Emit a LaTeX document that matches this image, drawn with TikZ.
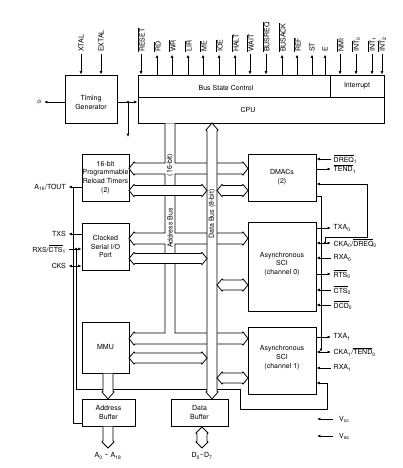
\documentclass[tikz,border=0pt]{standalone}
\usepackage{fontspec}
\setmainfont{TeX Gyre Heros}
\usetikzlibrary{arrows.meta}
\newcommand{\ovl}[1]{$\overline{\mbox{#1}}$}
\newcommand{\sbs}[1]{\textsubscript{#1}}
\tikzset{
 box/.style={draw, line width=0.85pt, inner sep=0pt, align=center},
 sig/.style={line width=0.7pt},
 toend/.style={-{Latex[length=3.4pt,width=2.8pt]}},
 tostart/.style={{Latex[length=3.4pt,width=2.8pt]}-},
 tobothends/.style={{Latex[length=3.4pt,width=2.8pt]}-{Latex[length=3.4pt,width=2.8pt]}},
 bus/.style={draw, fill=white, line width=0.8pt, line join=miter},
 toplab/.style={rotate=90, anchor=west},
 rlab/.style={anchor=west},
 llab/.style={anchor=east},
 buslab/.style={rotate=90},
 dot/.style={circle, fill, inner sep=0pt, minimum size=2.8pt}
}
\newcommand{\hbus}[4]{%
 \path[bus] (#1,#3) -- ({#1+5},{#3-#4-1}) -- ({#1+6},{#3-#4}) -- ({#2-6},{#3-#4}) -- ({#2-5},{#3-#4-1}) -- (#2,#3) -- ({#2-5},{#3+#4+1}) -- ({#2-6},{#3+#4}) -- ({#1+6},{#3+#4}) -- ({#1+5},{#3+#4+1}) -- cycle;}
\begin{document}
\begin{tikzpicture}[x=1pt,y=-1pt,
  every node/.style={font=\fontsize{7}{8.8}\selectfont, inner sep=0pt}]
\useasboundingbox[fill=white] (0,0) rectangle (402,468);

% boxes
\node[box, minimum width=52pt, minimum height=48pt] (tg) at (91,99) {};
\node (tgt) at (91,102.5) [align=center] {Timing\\Generator};
\node[box, minimum width=246pt, minimum height=48pt] (cpu) at (261,99) {};
\node[box, minimum width=47pt, minimum height=47pt] (timers) at (105.5,177.5) {16-bit\\Programmable\\Reload Timers\\(2)};
\node[box, minimum width=47pt, minimum height=47pt] (csio) at (105.5,246.5) {Clocked\\Serial I/O\\Port};
\node[box, minimum width=47pt, minimum height=51pt] (mmu) at (105.5,347.5) {MMU};
\node[box, minimum width=53pt, minimum height=27pt] (abuf) at (108.5,412.5) {Address\\Buffer};
\node[box, minimum width=57pt, minimum height=27pt] (dbuf) at (199.5,412.5) {Data\\Buffer};
\node[box, minimum width=68pt, minimum height=47pt] (dmac) at (282,177.5) {DMACs\\(2)};
\node[box, minimum width=68pt, minimum height=89pt] (asci0) at (282,266.5) {};
\node (asci0t) at (282,264) [align=center] {Asynchronous\\SCI\\(channel 0)};
\node[box, minimum width=68pt, minimum height=67pt] (asci1) at (282,360.5) {};
\node (asci1t) at (282,357.5) [align=center] {Asynchronous\\SCI\\(channel 1)};

% CPU inner divisions
\coordinate (isep) at (330,97);
\draw[line width=0.85pt] (cpu.west |- isep) -- (cpu.east |- isep);
\draw[line width=0.85pt] (isep) -- (isep |- cpu.north);
\node (bsc) at (226,88) {Bus State Control};
\node (intr) at (357,86) {Interrupt};
\node (cput) at (248,110) {CPU};

% top pins
\foreach \x/\lab/\d [count=\i] in {81/XTAL/toend, 101/EXTAL/toend} {
  \node[toplab] (x\i) at (\x,52) {\lab};
  \draw[sig,\d] ([yshift=-2.5pt]x\i.west) -- (x\i.west |- tg.north);
}
\foreach \x/\lab/\d [count=\i] in {
  141/\ovl{RESET}/toend, 157/\ovl{RD}/tostart, 172/\ovl{WR}/tostart,
  188/\ovl{LIR}/tostart, 203/\ovl{ME}/tostart, 219/\ovl{IOE}/tostart,
  235/\ovl{HALT}/tostart, 250/\ovl{WAIT}/toend, 266/\ovl{BUSREQ}/toend,
  282/\ovl{BUSACK}/tostart, 297/\ovl{REF}/tostart, 312/ST/tostart,
  325/E/tostart, 340/\ovl{NMI}/toend, 356/{\ovl{INT}\sbs{0}}/toend,
  372/{\ovl{INT}\sbs{1}}/toend, 382/{\ovl{INT}\sbs{2}}/toend} {
  \node[toplab] (t\i) at (\x,52) {\lab};
  \draw[sig,\d] ([yshift=-2.5pt]t\i.west) -- (t\i.west |- cpu.north);
}

% right pins
\foreach \y/\lab/\d/\b [count=\i] in {
  159/{\ovl{DREQ}\sbs{1}}/toend/dmac, 169/{\ovl{TEND}\sbs{1}}/tostart/dmac,
  228/{TXA\sbs{0}}/tostart/asci0, 243/{CKA\sbs{0}/\ovl{DREQ}\sbs{0}}/tobothends/asci0,
  258/{RXA\sbs{0}}/toend/asci0, 274/{\ovl{RTS}\sbs{0}}/tostart/asci0,
  290/{\ovl{CTS}\sbs{0}}/toend/asci0, 305/{\ovl{DCD}\sbs{0}}/toend/asci0,
  337/{TXA\sbs{1}}/tostart/asci1, 352/{CKA\sbs{1}/\ovl{TEND}\sbs{0}}/tobothends/asci1,
  368/{RXA\sbs{1}}/toend/asci1} {
  \coordinate (r\i) at (331,\y);
  \node[rlab] (rl\i) at (333.5,\y) {\lab};
  \draw[sig,\d] (r\i) -- (r\i -| \b.east);
}

% left pins
\foreach \y/\lab/\d/\b [count=\i] in {
  187/{A\sbs{16}/TOUT}/tostart/timers, 234/TXS/tostart/csio,
  249/{RXS/\ovl{CTS}\sbs{1}}/toend/csio, 266/CKS/tobothends/csio} {
  \coordinate (l\i) at (68.5,\y);
  \node[llab] (ll\i) at (66,\y) {\lab};
  \draw[sig,\d] (l\i) -- (l\i -| \b.west);
}

% Vcc / Vss
\coordinate (vcc) at (333,419); \coordinate (vcce) at (317,419);
\coordinate (vss) at (333,436); \coordinate (vsse) at (317,436);
\node[rlab] (vccl) at (339,419) {V\sbs{cc}};
\node[rlab] (vssl) at (339,436) {V\sbs{ss}};
\draw[sig,toend] (vcc) -- (vcce);
\draw[sig,toend] (vss) -- (vsse);

% timing generator outputs
\coordinate (tgo) at (117,102);
\coordinate (phj) at (128,102);
\coordinate (phd) at (128,137);
\node[llab] (phi) at (42,102) {$\phi$};
\draw[sig,toend] (tgo -| tg.west) -- ([xshift=2pt]phi.east);
\draw[sig,toend] (tgo) -- (tgo -| cpu.west);
\draw[sig,toend] (phj) -- (phd);
\node[dot] (phdot) at (phj) {};

% A16 line
\coordinate (a16t) at (73,187);
\coordinate (a16b) at (73,423);
\draw[sig] (a16t) -- (a16b) -- (a16b -| abuf.west);

% CTS1 line
\coordinate (ctsj) at (76,249);
\coordinate (c1) at (327,383);
\draw[sig,toend] (ctsj) -- (76,389) -- (240,389) -- (240,409) -- (327,409) -- (c1) -- (c1 -| asci1.east);
\node[dot] (ctsdot) at (ctsj) {};

% DREQ0 to DMAC
\coordinate (dq) at (367,184);
\coordinate (dqj) at (325,243);
\draw[sig,toend] (dqj) -- (325,237) -- (367,237) -- (dq) -- (dq -| dmac.east);
\node[dot] (dqdot) at (dqj) {};
% TEND0 from DMAC
\coordinate (te) at (321,196);
\coordinate (tej) at (321,352);
\draw[sig,toend] (te -| dmac.east) -- (te) -- (tej);

% address bus network
\path[bus] (165,123.5) -- (165,163) -- (135,163) -- (134,162) -- (129,168.5) -- (134,175) -- (135,174) -- (165,174)
 -- (165,233) -- (135,233) -- (134,232) -- (129,238.5) -- (134,245) -- (135,244) -- (165,244)
 -- (165,333) -- (135,333) -- (134,332) -- (129,338.5) -- (134,345) -- (135,344)
 -- (242,344) -- (243,345) -- (248,338.5) -- (243,332) -- (242,333) -- (175,333)
 -- (175,244) -- (242,244) -- (243,245) -- (248,238.5) -- (243,232) -- (242,233) -- (175,233)
 -- (175,174) -- (242,174) -- (243,175) -- (248,168.5) -- (243,162) -- (242,163) -- (175,163)
 -- (175,123.5);

% data bus
\path[bus] (212,123) -- (218,130) -- (217,131) -- (217,391) -- (218,392) -- (212,399) -- (206,392) -- (207,391) -- (207,131) -- (206,130) -- cycle;

% data branches
\hbus{129}{207}{190.5}{5}
\hbus{217}{248}{190.5}{5}
\hbus{129}{207}{258.5}{5}
\hbus{217}{248}{285}{5}
\hbus{129}{207}{358}{5}
\hbus{217}{248}{378}{5}

% MMU to address buffer, buffer outputs
\path[bus] (103,373.5) -- (103,391) -- (102,392) -- (108,399) -- (114,392) -- (113,391) -- (113,373.5);
\path[bus] (103,426.5) -- (103,441) -- (102,442) -- (108,448) -- (114,442) -- (113,441) -- (113,426.5);
\path[bus] (202,427) -- (208,433) -- (207,434) -- (207,441) -- (208,442) -- (202,448) -- (196,442) -- (197,441) -- (197,434) -- (196,433) -- cycle;

% bus labels
\node[buslab] (b16) at (170,165) {(16-bit)};
\node[buslab] (ab) at (170,228) {Address Bus};
\node[buslab] (db) at (212,214) {Data Bus (8-bit)};

\node (alab) at (108,456) {A\sbs{0} \textasciitilde{} A\sbs{18}};
\node (dlab) at (202,456) {D\sbs{0}\textasciitilde D\sbs{7}};
\end{tikzpicture}
\end{document}
